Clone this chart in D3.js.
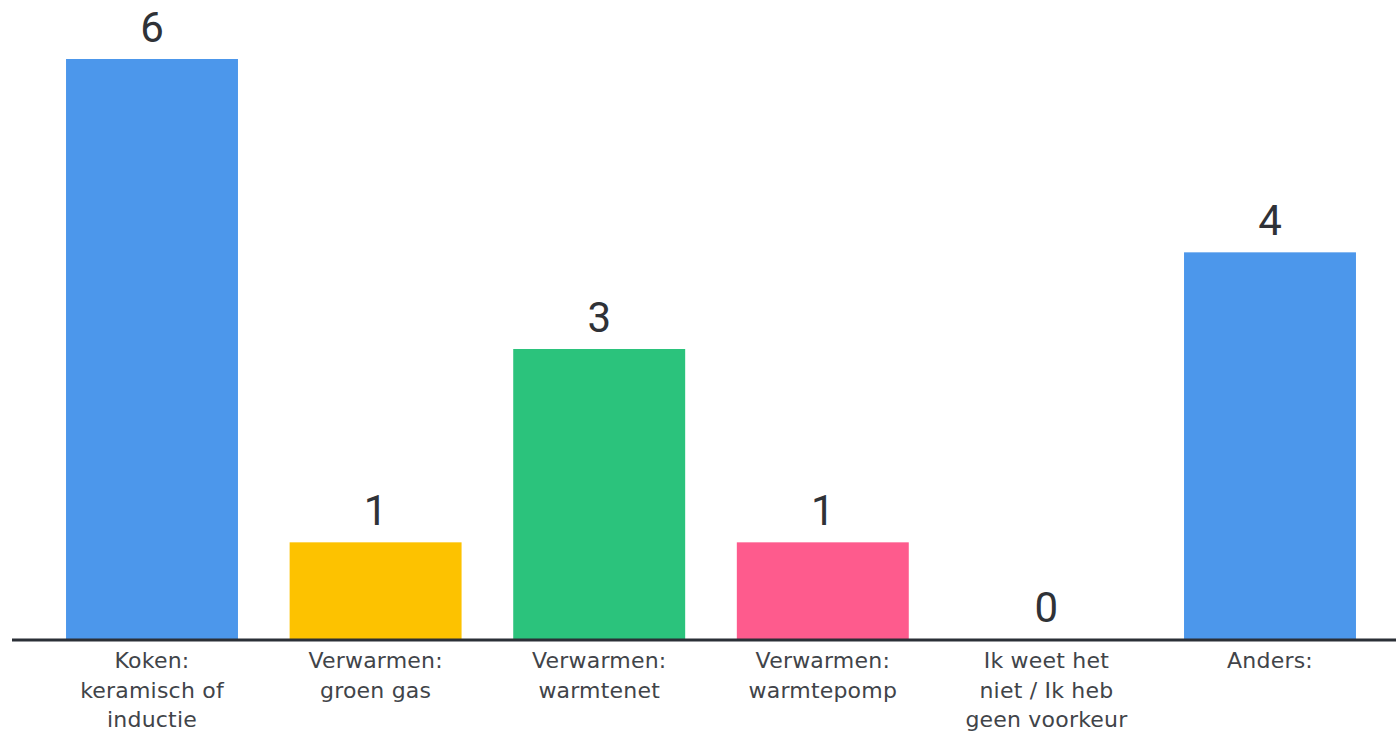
<!DOCTYPE html>
<html><head><meta charset="utf-8">
<script src="https://cdn.jsdelivr.net/npm/d3@7"></script>
<style>html,body{margin:0;padding:0;background:#fff;}svg{display:block;}</style>
</head><body>
<svg id="chart" width="1396" height="737"></svg>
<script>
const categories = ["Koken: keramisch of inductie","Verwarmen: groen gas","Verwarmen: warmtenet","Verwarmen: warmtepomp","Ik weet het niet / Ik heb geen voorkeur","Anders:"];
const labelLines = [["Koken:","keramisch of","inductie"],["Verwarmen:","groen gas"],["Verwarmen:","warmtenet"],["Verwarmen:","warmtepomp"],["Ik weet het","niet / Ik heb","geen voorkeur"],["Anders:"]];
const values = [6,1,3,1,0,4];
const colors = ["#4c97eb","#fdc200","#2bc37c","#fe5b8d","#4c97eb","#4c97eb"];

const svg = d3.select("#chart");
const base = 639;
const x = d3.scaleBand().domain(categories).range([40.2,1381.8]).paddingInner(0.231).paddingOuter(0.1155);
const y = d3.scaleLinear().domain([0,6]).range([base,59]);

svg.selectAll("rect.bar").data(values).join("rect")
  .attr("class","bar")
  .attr("x",(d,i)=>x(categories[i]))
  .attr("width",x.bandwidth())
  .attr("y",d=>y(d))
  .attr("height",d=>base-y(d))
  .attr("fill",(d,i)=>colors[i]);

svg.selectAll("text.val").data(values).join("text")
  .attr("class","val")
  .attr("x",(d,i)=>x(categories[i])+x.bandwidth()/2)
  .attr("y",d=>y(d)-17)
  .attr("text-anchor","middle")
  .attr("font-family","Roboto, 'Open Sans', sans-serif")
  .attr("font-size",42)
  .attr("fill","#2f3237")
  .text(d=>d);

svg.append("line").attr("x1",12).attr("x2",1396).attr("y1",base+1).attr("y2",base+1)
  .attr("stroke","#2b2f36").attr("stroke-width",3);

const lab = svg.selectAll("text.cat").data(categories).join("text")
  .attr("class","cat")
  .attr("text-anchor","middle")
  .attr("font-family","'DejaVu Sans', sans-serif")
  .attr("font-size",22)
  .attr("letter-spacing",0.2)
  .attr("fill","#414449")
  .attr("transform",d=>`translate(${x(d)+x.bandwidth()/2},668)`);
lab.selectAll("tspan").data((d,i)=>labelLines[i]).join("tspan")
  .attr("x",0).attr("y",(d,j)=>j*29.5).text(d=>d);
</script>
</body></html>
